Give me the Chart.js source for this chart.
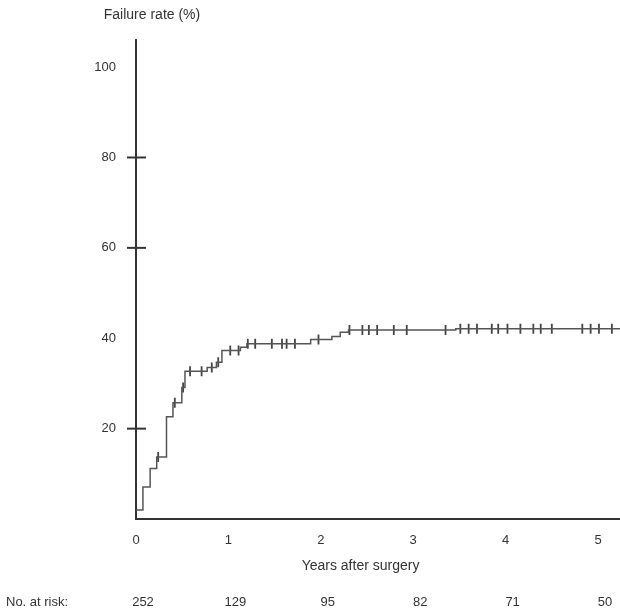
<!DOCTYPE html>
<html>
<head>
<meta charset="utf-8">
<script src="https://cdn.jsdelivr.net/npm/chart.js@4/dist/chart.umd.min.js"></script>
<style>
  html, body { margin: 0; padding: 0; background: #fff; overflow: hidden; }
  #wrap { width: 620px; height: 612px; position: relative; overflow: hidden; }
</style>
</head>
<body>
<div id="wrap"><canvas id="kmchart" width="627" height="612"></canvas></div>
<script>
// step curve: time (years) where failure rate changes, and new value (%)
const eventYears = [0, 0.075, 0.153, 0.224, 0.33, 0.40, 0.496, 0.53, 0.77, 0.87, 0.93, 1.13, 1.20, 1.89, 2.12, 2.21, 2.30, 3.46, 5.24];
const failureRate = [2.0, 7.1, 11.2, 13.7, 22.6, 25.7, 29.1, 32.7, 33.5, 34.7, 37.3, 38.0, 38.8, 39.7, 40.4, 41.3, 41.8, 42.1, 42.1];

// censored observations (years)
const censorYears = [0.24, 0.42, 0.51, 0.585, 0.71, 0.82, 0.89, 1.02, 1.11, 1.21, 1.29, 1.47, 1.58, 1.63, 1.72, 1.975,
  2.31, 2.45, 2.52, 2.61, 2.79, 2.93, 3.35, 3.51, 3.60, 3.69, 3.85, 3.92, 4.02, 4.16, 4.30, 4.38, 4.50, 4.83, 4.92, 5.01, 5.15];

const xTicks = [0, 1, 2, 3, 4, 5];
const yTicks = [20, 40, 60, 80, 100];
const yCrossTicks = [20, 60, 80];
const atRiskYears = [0, 1, 2, 3, 4, 5];
const atRisk = [252, 129, 95, 82, 71, 50];

const FONT = "'Liberation Sans', Arial, sans-serif";
const TEXT = "#333";

// value of the step curve at time t (for placing censor marks on it)
function stepAt(t) {
  let v = failureRate[0];
  for (let i = 0; i < eventYears.length; i++) {
    if (eventYears[i] <= t) v = failureRate[i];
  }
  return v;
}

const extras = {
  id: "extras",
  afterDraw(chart) {
    const ctx = chart.ctx;
    const xs = chart.scales.x, ys = chart.scales.y;
    const ax = xs.left;
    ctx.save();
    // tick marks crossing the y axis
    ctx.strokeStyle = "#333";
    ctx.lineWidth = 2;
    yCrossTicks.forEach(v => {
      const py = ys.getPixelForValue(v);
      ctx.beginPath();
      ctx.moveTo(ax - 9, py);
      ctx.lineTo(ax + 10, py);
      ctx.stroke();
    });
    ctx.fillStyle = TEXT;
    ctx.font = "14px " + FONT;
    ctx.textBaseline = "middle";
    ctx.textAlign = "center";
    ctx.fillText("Failure rate (%)", 152, 15);
    ctx.fillText("Years after surgery", xs.getPixelForValue(2.43), 566);
    ctx.font = "13px " + FONT;
    ctx.textAlign = "left";
    ctx.fillText("No. at risk:", 6, 602);
    ctx.textAlign = "center";
    atRisk.forEach((n, i) => {
      ctx.fillText(String(n), xs.getPixelForValue(atRiskYears[i]) + 7, 602);
    });
    ctx.restore();
  }
};

new Chart(document.getElementById("kmchart"), {
  type: "line",
  data: {
    datasets: [
      {
        label: "failure",
        data: eventYears.map((t, i) => ({ x: t, y: failureRate[i] })),
        stepped: true,
        borderColor: "#555",
        borderWidth: 1.5,
        pointRadius: 0,
        fill: false,
      },
      {
        label: "censored",
        type: "scatter",
        data: censorYears.map(t => ({ x: t, y: stepAt(t) })),
        pointStyle: "line",
        rotation: 90,
        pointRadius: 5,
        borderColor: "#444",
        borderWidth: 1.8,
        showLine: false,
      },
    ],
  },
  options: {
    responsive: false,
    animation: false,
    layout: { padding: { top: 40, right: 0, left: 0, bottom: 0 } },
    plugins: { legend: { display: false }, tooltip: { enabled: false } },
    scales: {
      x: {
        type: "linear",
        min: 0,
        max: 5.24,
        afterFit: s => { s.height = 93; },
        afterBuildTicks: s => { s.ticks = xTicks.map(v => ({ value: v })); },
        grid: { display: true, drawOnChartArea: false, drawTicks: false },
        border: { color: "#333", width: 2 },
        ticks: { padding: 14, color: TEXT, font: { family: FONT, size: 13 } },
      },
      y: {
        min: 0,
        max: 106,
        afterFit: s => { s.width = 136; },
        afterBuildTicks: s => { s.ticks = yTicks.map(v => ({ value: v })); },
        grid: { display: true, drawOnChartArea: false, drawTicks: false },
        border: { color: "#333", width: 2 },
        ticks: { padding: 20, color: TEXT, font: { family: FONT, size: 13 } },
      },
    },
  },
  plugins: [extras],
});
</script>
</body>
</html>
